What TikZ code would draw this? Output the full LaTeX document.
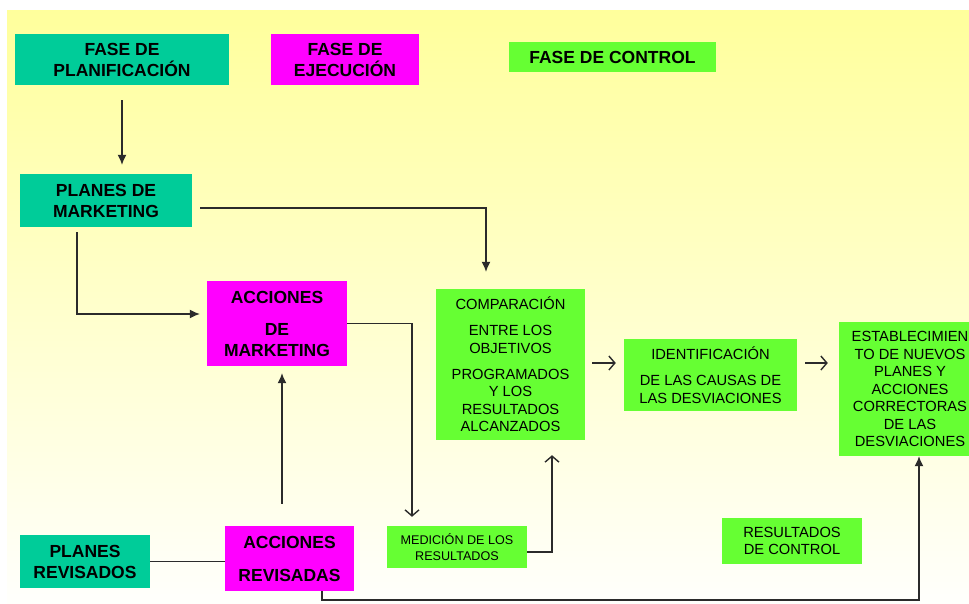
\documentclass[tikz,border=0pt]{standalone}
\usepackage{fontspec}
\setmainfont{Liberation Sans}
\usetikzlibrary{arrows.meta}
\definecolor{tealc}{HTML}{00CC99}
\definecolor{magc}{HTML}{FF00FF}
\definecolor{grnc}{HTML}{66FF33}
\definecolor{bgtop}{HTML}{FFFF9C}
\definecolor{bgbot}{HTML}{FFFFFC}
\definecolor{linec}{HTML}{2B2B2B}
\begin{document}
\begin{tikzpicture}[x=1pt,y=-1pt,
  box/.style={rectangle, inner sep=0pt, align=center, text=black},
  hdr/.style={box, font=\bfseries\fontsize{17.5}{21}\selectfont},
  txt/.style={box, font=\fontsize{14.7}{17.5}\selectfont},
  smalltxt/.style={box, font=\fontsize{12.6}{16.7}\selectfont},
  conn/.style={draw=linec, line width=1.3pt},
  arr/.style={conn, -{Latex[length=10pt,width=9pt]}},
  oarr/.style={conn, -{Straight Barb[length=6pt,width=14pt,line width=1.4pt]}}
]
\useasboundingbox (0,0) rectangle (969,603);
\fill[white] (0,0) rectangle (969,603);
\shade[top color=bgtop, bottom color=bgbot] (7,10) rectangle (969,603);

% nodes
\node[hdr, fill=tealc, minimum width=214pt, minimum height=51pt] (fp) at (122,59.5) {FASE DE\\PLANIFICACIÓN};
\node[hdr, fill=magc, minimum width=148pt, minimum height=51pt] (fe) at (345,59.5) {FASE DE\\EJECUCIÓN};
\node[hdr, fill=grnc, minimum width=207pt, minimum height=30pt] (fc) at (612.5,57) {FASE DE CONTROL};
\node[hdr, fill=tealc, minimum width=172pt, minimum height=53pt] (pm) at (106,200.5) {PLANES DE\\MARKETING};
\node[hdr, fill=magc, minimum width=140pt, minimum height=85pt] (am) at (277,323.5) {ACCIONES\\[11pt]DE\\MARKETING};
\node[txt, fill=grnc, minimum width=149pt, minimum height=151pt] (cmp) at (510.5,364.5) {COMPARACIÓN\\[8.5pt]ENTRE LOS\\OBJETIVOS\\[8.5pt]PROGRAMADOS\\Y LOS\\RESULTADOS\\ALCANZADOS};
\node[txt, fill=grnc, minimum width=173pt, minimum height=72pt] (idf) at (710.5,375) {IDENTIFICACIÓN\\[8.5pt]DE LAS CAUSAS DE\\LAS DESVIACIONES};
\node[txt, fill=grnc, minimum width=142pt, minimum height=134pt] (est) at (910,389) {ESTABLECIMIEN\\TO DE NUEVOS\\PLANES Y\\ACCIONES\\CORRECTORAS\\DE LAS\\DESVIACIONES};
\node[smalltxt, fill=grnc, minimum width=140pt, minimum height=42pt] (med) at (457,547) {MEDICIÓN DE LOS\\RESULTADOS};
\node[txt, fill=grnc, minimum width=140pt, minimum height=46pt] (rc) at (792,541) {RESULTADOS\\DE CONTROL};
\node[hdr, fill=tealc, minimum width=130pt, minimum height=53pt] (pr) at (85,561.5) {PLANES\\REVISADOS};
\node[hdr, fill=magc, minimum width=129pt, minimum height=65pt] (ar) at (289.5,558.5) {ACCIONES\\[12pt]REVISADAS};

% connectors
\draw[arr, shorten <=15pt, shorten >=9pt] (fp.south) -- (fp.south |- pm.north);
\draw[arr, shorten >=17pt] ([xshift=8pt,yshift=-7.5pt]pm.east) -| ([xshift=-24.5pt]cmp.north);
\draw[arr, shorten <=5pt, shorten >=7pt] ([xshift=-29pt]pm.south) |- ([yshift=9.5pt]am.west);
\draw[oarr, shorten >=9pt] (am.east) -| ([xshift=-45pt]med.north);
\draw[arr, shorten <=22pt, shorten >=7pt] ([xshift=-7.5pt]ar.north) -- ([xshift=-7.5pt]ar.north |- am.south);
\draw[conn] (pr.east) -- (pr.east -| ar.west);
\draw[oarr, shorten >=15pt] ([yshift=-5pt]med.east) -| ([xshift=41.5pt]cmp.south);
\draw[oarr, shorten <=7pt, shorten >=8pt] ([yshift=1.5pt]cmp.east) -- ([yshift=1.5pt]cmp.east -| idf.west);
\draw[oarr] ([xshift=8pt,yshift=12pt]idf.east) -- ([xshift=-11pt,yshift=26pt]est.west);
\coordinate (bot) at (0,600);
\draw[arr] ([xshift=32.5pt]ar.south) -- ([xshift=32.5pt]ar.south |- bot) -| ([xshift=9pt]est.south);
\end{tikzpicture}
\end{document}
